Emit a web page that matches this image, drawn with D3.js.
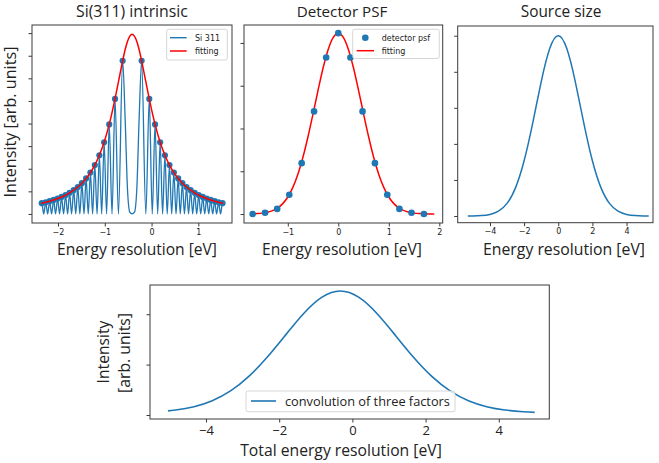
<!DOCTYPE html>
<html><head><meta charset="utf-8">
<script src="https://cdn.jsdelivr.net/npm/d3@7"></script>
<style>body{margin:0;background:#fff}svg{display:block}</style>
</head><body>
<svg id="c" width="659" height="463"></svg>
<script>
// ---------- DATA ----------
// Panel 1: Si(311) intrinsic (oscillating line, peak markers, Lorentzian fit)
const siLineX = [-2.360,-2.347,-2.305,-2.263,-2.221,-2.179,-2.137,-2.094,-2.052,-2.009,-1.967,-1.924,-1.881,-1.838,-1.795,-1.752,-1.709,-1.665,-1.621,-1.577,-1.533,-1.489,-1.444,-1.399,-1.353,-1.307,-1.260,-1.213,-1.165,-1.116,-1.066,-1.014,-0.961,-0.905,-0.845,-0.781,-0.708,-0.618,-0.565,-0.515,-0.465,-0.415,-0.365,-0.315,-0.265,-0.212,-0.122,-0.049,0.015,0.075,0.131,0.184,0.236,0.286,0.335,0.383,0.430,0.477,0.523,0.569,0.614,0.659,0.703,0.747,0.791,0.835,0.879,0.922,0.965,1.008,1.051,1.094,1.137,1.179,1.222,1.264,1.307,1.349,1.391,1.433,1.475,1.517,1.530];
const siLineY = [0.353,0.477,0,0.518,0,0.565,0,0.619,0,0.681,0,0.753,0,0.836,0,0.935,0,1.051,0,1.191,0,1.361,0,1.570,0,1.832,0,2.164,0,2.596,0,3.171,0,3.961,0,5.088,0,6.774,4.241,1.112,0.077,0,0.077,1.112,4.241,6.774,0,5.088,0,3.961,0,3.171,0,2.596,0,2.164,0,1.832,0,1.570,0,1.361,0,1.191,0,1.051,0,0.935,0,0.836,0,0.753,0,0.681,0,0.619,0,0.565,0,0.518,0,0.477,0.353];
const siDotX = [-2.347,-2.263,-2.179,-2.094,-2.009,-1.924,-1.838,-1.752,-1.665,-1.577,-1.489,-1.399,-1.307,-1.213,-1.116,-1.014,-0.905,-0.781,-0.618,-0.212,-0.049,0.075,0.184,0.286,0.383,0.477,0.569,0.659,0.747,0.835,0.922,1.008,1.094,1.179,1.264,1.349,1.433,1.517];
const siDotY = [0.477,0.518,0.565,0.619,0.681,0.753,0.836,0.935,1.051,1.191,1.361,1.570,1.832,2.164,2.596,3.171,3.961,5.088,6.774,6.774,5.088,3.961,3.171,2.596,2.164,1.832,1.570,1.361,1.191,1.051,0.935,0.836,0.753,0.681,0.619,0.565,0.518,0.477];
const siFitX = [-2.360,-2.347,-2.263,-2.179,-2.094,-2.009,-1.924,-1.838,-1.752,-1.665,-1.577,-1.489,-1.399,-1.307,-1.213,-1.116,-1.014,-0.905,-0.781,-0.705,-0.618,-0.565,-0.515,-0.415,-0.315,-0.265,-0.212,-0.125,-0.049,0.075,0.184,0.286,0.383,0.477,0.569,0.659,0.747,0.835,0.922,1.008,1.094,1.179,1.264,1.349,1.433,1.517,1.530];
const siFitY = [0.471,0.477,0.518,0.565,0.619,0.681,0.753,0.836,0.935,1.051,1.191,1.361,1.570,1.832,2.164,2.596,3.171,3.961,5.088,5.876,6.774,7.264,7.630,7.950,7.630,7.264,6.774,5.876,5.088,3.961,3.171,2.596,2.164,1.832,1.570,1.361,1.191,1.051,0.935,0.836,0.753,0.681,0.619,0.565,0.518,0.477,0.471];
const p1XTicks = [-2,-1,0,1];
const p1YTicks = [0,1,2,3,4,5,6,7,8];

// Panel 2: Detector PSF
const psfDotX = [-1.695,-1.45,-1.21,-0.97,-0.725,-0.48,-0.24,0,0.24,0.48,0.725,0.97,1.21,1.45,1.695];
const psfDotY = [0.0,0.03,0.12,0.45,1.19,2.40,3.66,4.23,3.66,2.40,1.19,0.45,0.12,0.03,0.0];
const psfFitX = [-1.7,-1.6,-1.5,-1.4,-1.3,-1.2,-1.1,-1.0,-0.9,-0.8,-0.7,-0.6,-0.5,-0.4,-0.3,-0.2,-0.1,0,0.1,0.2,0.3,0.4,0.5,0.6,0.7,0.8,0.9,1.0,1.1,1.2,1.3,1.4,1.5,1.6,1.7,1.8,1.9];
const psfFitY = [0.005,0.010,0.021,0.041,0.078,0.141,0.243,0.398,0.624,0.932,1.329,1.807,2.343,2.898,3.420,3.848,4.131,4.230,4.131,3.848,3.420,2.898,2.343,1.807,1.329,0.932,0.624,0.398,0.243,0.141,0.078,0.041,0.021,0.010,0.005,0.002,0.001];
const p2XTicks = [-1,0,1,2];
const p2YTicks = [0,1,2,3,4];

// Panel 3: Source size
const srcX = [-5.3,-5.0,-4.5,-4.0,-3.5,-3.0,-2.5,-2.0,-1.5,-1.0,-0.5,0,0.5,1.0,1.5,2.0,2.5,3.0,3.5,4.0,4.5,5.0,5.3];
const srcY = [0.001,0.003,0.013,0.044,0.133,0.349,0.787,1.531,2.570,3.720,4.643,5.0,4.643,3.720,2.570,1.531,0.787,0.349,0.133,0.044,0.013,0.003,0.001];
const p3XTicks = [-4,-2,0,2,4];
const p3YTicks = [0,1,2,3,4,5];

// Panel 4: convolution of the three factors
const convX = [-5.04,-4.83,-4.33,-3.83,-3.33,-2.83,-2.33,-1.83,-1.33,-0.83,-0.33,0.17,0.67,1.17,1.67,2.17,2.67,3.17,3.67,4.17,4.67,4.98];
const convY = [0.081,0.099,0.165,0.283,0.477,0.765,1.145,1.585,2.015,2.338,2.460,2.338,2.015,1.585,1.145,0.765,0.477,0.283,0.165,0.099,0.064,0.051];
const p4XTicks = [-4,-2,0,2,4];
const p4YTicks = [0,1,2];

const titles = ["Si(311) intrinsic","Detector PSF","Source size"];
const xLabel = "Energy resolution [eV]";
const yLabel = "Intensity [arb. units]";
const yLabel2 = ["Intensity","[arb. units]"];
const xLabel4 = "Total energy resolution [eV]";
const legend1 = ["Si 311","fitting"];
const legend2 = ["detector psf","fitting"];
const legend4 = "convolution of three factors";

// ---------- DRAW ----------
const BLUE = "#1f77b4", RED = "#ff0000", FRAME = "#3a3a3a";
const LFONT = "'Open Sans', 'Noto Sans', sans-serif";
const TFONT = "'DejaVu Sans', sans-serif";
const svg = d3.select("#c");
const fmt = d => (d < 0 ? "\u2212" + Math.abs(d) : String(d));
const zip = (xs, ys) => xs.map((x, i) => [x, ys[i]]);

function fitText(t, target) {
  const w = t.node().getComputedTextLength();
  const fs = parseFloat(t.attr("font-size"));
  t.attr("font-size", (fs * target / w).toFixed(2));
  return t;
}

function panel(o) {
  const x = d3.scaleLinear().domain(o.xd).range([o.l, o.r]);
  const y = d3.scaleLinear().domain(o.yd).range([o.b, o.t]);
  const g = svg.append("g");
  const ax = g.append("g").attr("transform", `translate(0,${o.b})`)
    .call(d3.axisBottom(x).tickValues(o.xt).tickFormat(fmt).tickSize(3.5).tickPadding(o.tpad || 2.5));
  ax.select(".domain").remove();
  ax.selectAll("line").attr("stroke", FRAME);
  ax.selectAll("text").attr("font-family", o.tfont || TFONT).attr("font-size", o.tsize || 8).attr("fill", "#222");
  const ay = g.append("g").attr("transform", `translate(${o.l},0)`)
    .call(d3.axisLeft(y).tickValues(o.yt).tickFormat("").tickSize(3.5));
  ay.select(".domain").remove();
  ay.selectAll("line").attr("stroke", FRAME);
  const clipId = "clip" + Math.round(o.l);
  g.append("clipPath").attr("id", clipId).append("rect")
    .attr("x", o.l).attr("y", o.t).attr("width", o.r - o.l).attr("height", o.b - o.t);
  const plot = g.append("g").attr("clip-path", `url(#${clipId})`);
  g.append("rect").attr("x", o.l).attr("y", o.t).attr("width", o.r - o.l).attr("height", o.b - o.t)
    .attr("fill", "none").attr("stroke", FRAME).attr("stroke-width", 1);
  return {x, y, g, plot};
}

function line(p, pts, color, w, curve) {
  p.plot.append("path").datum(pts)
    .attr("d", d3.line().x(d => p.x(d[0])).y(d => p.y(d[1])).curve(curve || d3.curveMonotoneX))
    .attr("fill", "none").attr("stroke", color).attr("stroke-width", w).attr("stroke-linejoin", "round");
}
function dots(p, pts, r) {
  p.plot.selectAll(null).data(pts).join("circle")
    .attr("cx", d => p.x(d[0])).attr("cy", d => p.y(d[1])).attr("r", r).attr("fill", BLUE);
}
function title(txt, cx, by, w) {
  const t = svg.append("text").attr("x", cx).attr("y", by).attr("text-anchor", "middle")
    .attr("font-family", LFONT).attr("font-size", 15).attr("fill", "#222").text(txt);
  fitText(t, w);
}
function legendBox(x0, y0, x1, y1) {
  svg.append("rect").attr("x", x0).attr("y", y0).attr("width", x1 - x0).attr("height", y1 - y0)
    .attr("rx", 2).attr("fill", "#fff").attr("fill-opacity", 0.8).attr("stroke", "#cccccc").attr("stroke-width", 0.8);
}
function legText(txt, x, y, fs, fam) {
  return svg.append("text").attr("x", x).attr("y", y).attr("font-family", fam || TFONT)
    .attr("font-size", fs).attr("fill", "#222").text(txt);
}

// Panel 1
const p1 = panel({l: 32, r: 232, t: 25, b: 223, xd: [-2.556, 1.72], yd: [-0.4, 8.36], xt: p1XTicks, yt: p1YTicks});
line(p1, zip(siLineX, siLineY), BLUE, 1.3);
dots(p1, zip(siDotX, siDotY), 3.1);
line(p1, zip(siFitX, siFitY), RED, 1.5);
legendBox(166.7, 29.3, 227.3, 60);
svg.append("line").attr("x1", 170).attr("x2", 186.7).attr("y1", 37.7).attr("y2", 37.7).attr("stroke", BLUE).attr("stroke-width", 1.4);
legText(legend1[0], 195, 40.6, 8);
svg.append("line").attr("x1", 170).attr("x2", 186.7).attr("y1", 51).attr("y2", 51).attr("stroke", RED).attr("stroke-width", 1.5);
legText(legend1[1], 195, 53.9, 8);

// Panel 2
const p2 = panel({l: 244, r: 442.7, t: 25, b: 223, xd: [-1.867, 2.067], yd: [-0.21, 4.42], xt: p2XTicks, yt: p2YTicks});
line(p2, zip(psfFitX, psfFitY), RED, 1.5);
dots(p2, zip(psfDotX, psfDotY), 3.3);
legendBox(352.7, 29.3, 439.3, 58.5);
svg.append("circle").attr("cx", 365.3).attr("cy", 37.7).attr("r", 3.3).attr("fill", BLUE);
legText(legend2[0], 381.7, 40.6, 8);
svg.append("line").attr("x1", 356.7).attr("x2", 374).attr("y1", 50.7).attr("y2", 50.7).attr("stroke", RED).attr("stroke-width", 1.5);
legText(legend2[1], 381.7, 53.6, 8);

// Panel 3
const p3 = panel({l: 457.7, r: 653, t: 26, b: 222.7, xd: [-5.89, 5.55], yd: [-0.186, 5.27], xt: p3XTicks, yt: p3YTicks});
line(p3, zip(srcX, srcY), BLUE, 1.5, d3.curveNatural);

// Panel 4
const p4 = panel({l: 150, r: 549.3, t: 285, b: 419, xd: [-5.53, 5.38], yd: [-0.08, 2.58], xt: p4XTicks, yt: p4YTicks,
  tfont: LFONT, tsize: 13, tpad: 3});
line(p4, zip(convX, convY), BLUE, 1.6, d3.curveNatural);
legendBox(246, 391, 455, 411.7);
svg.append("line").attr("x1", 251).attr("x2", 276).attr("y1", 401).attr("y2", 401).attr("stroke", BLUE).attr("stroke-width", 1.6);
fitText(legText(legend4, 285, 405.5, 13, LFONT), 165);

// Titles and labels
title(titles[0], 132, 17, 112);
title(titles[1], 342, 17, 90.6);
title(titles[2], 561, 17, 80.7);
title(xLabel, 137, 255, 160);
title(xLabel, 342, 255, 160);
title(xLabel, 564, 255, 162);
title(xLabel4, 341, 456, 201.7);

const yl = svg.append("text").attr("transform", "translate(15.5,122) rotate(-90)").attr("text-anchor", "middle")
  .attr("font-family", LFONT).attr("font-size", 15).attr("fill", "#222").text(yLabel);
fitText(yl, 151);
const yl2a = svg.append("text").attr("transform", "translate(109,352) rotate(-90)").attr("text-anchor", "middle")
  .attr("font-family", LFONT).attr("font-size", 15).attr("fill", "#222").text(yLabel2[0]);
fitText(yl2a, 63);
const yl2b = svg.append("text").attr("transform", "translate(129.5,353) rotate(-90)").attr("text-anchor", "middle")
  .attr("font-family", LFONT).attr("font-size", 15).attr("fill", "#222").text(yLabel2[1]);
fitText(yl2b, 80);
</script>
</body></html>
